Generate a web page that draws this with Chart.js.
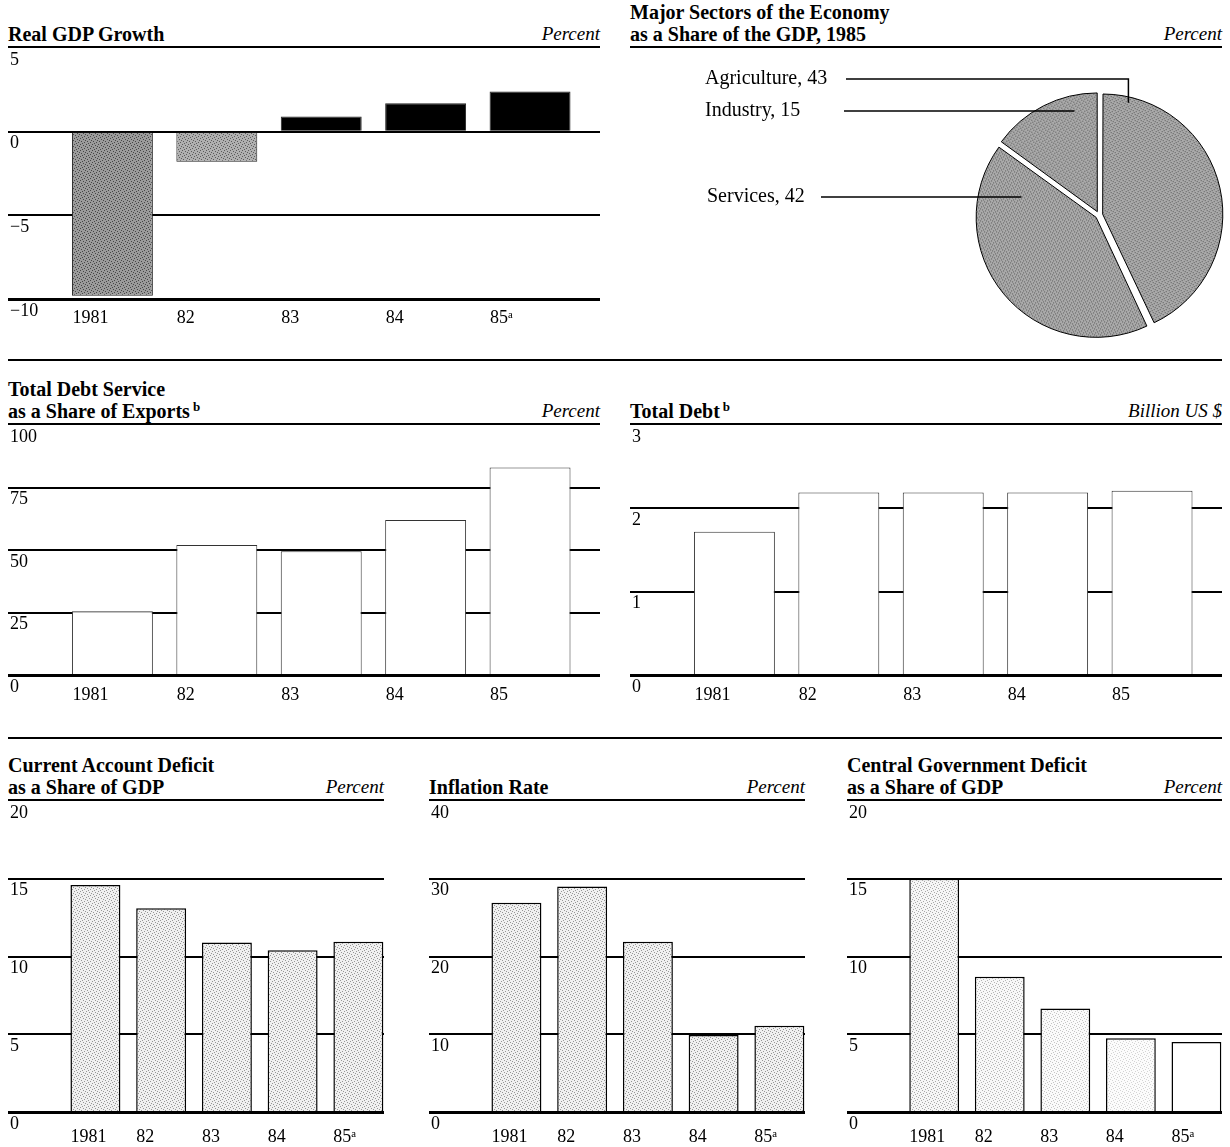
<!DOCTYPE html>
<html>
<head>
<meta charset="utf-8">
<script src="https://cdn.jsdelivr.net/npm/chart.js@4.4.1/dist/chart.umd.min.js"></script>
<style>
  body {
    margin: 0;
    width: 1230px;
    height: 1147px;
    position: relative;
    overflow: hidden;
    background: #fff;
    color: #000;
    font-family: 'Liberation Serif', 'Times New Roman', serif;
  }
  .panel { position: absolute; }
  .panel canvas { position: absolute; left: 0; top: 0; }
  .panel-head {
    position: absolute;
    left: 0;
    right: 0;
    bottom: 100%;
    display: flex;
    justify-content: space-between;
    align-items: flex-end;
    border-bottom: 2px solid #000;
    padding-bottom: 1px;
  }
  .panel-title { font-weight: bold; font-size: 20px; line-height: 22px; white-space: nowrap; }
  .panel-title sup { font-size: 13px; line-height: 0; vertical-align: 7px; margin-left: 3px; }
  .panel-unit { font-style: italic; font-size: 19px; line-height: 22px; white-space: nowrap; }
  .rule { position: absolute; left: 8px; width: 1214px; height: 2px; background: #000; }
</style>
</head>
<body>
<div class="rule" style="top:359px"></div>
<div class="rule" style="top:737px"></div>

<div class="panel" style="left:8px;top:48px;width:592px">
  <div class="panel-head">
    <div class="panel-title">Real GDP Growth</div>
    <div class="panel-unit">Percent</div>
  </div>
  <canvas id="gdpChart" width="592" height="291"></canvas>
</div>

<div class="panel" style="left:630px;top:48px;width:592px">
  <div class="panel-head">
    <div class="panel-title">Major Sectors of the Economy<br>as a Share of the GDP, 1985</div>
    <div class="panel-unit">Percent</div>
  </div>
  <canvas id="sectorChart" width="600" height="297"></canvas>
</div>

<div class="panel" style="left:8px;top:425px;width:592px">
  <div class="panel-head">
    <div class="panel-title">Total Debt Service<br>as a Share of Exports<sup>b</sup></div>
    <div class="panel-unit">Percent</div>
  </div>
  <canvas id="debtServiceChart" width="592" height="290"></canvas>
</div>

<div class="panel" style="left:630px;top:425px;width:592px">
  <div class="panel-head">
    <div class="panel-title">Total Debt<sup>b</sup></div>
    <div class="panel-unit">Billion US $</div>
  </div>
  <canvas id="totalDebtChart" width="592" height="290"></canvas>
</div>

<div class="panel" style="left:8px;top:801px;width:376px">
  <div class="panel-head">
    <div class="panel-title">Current Account Deficit<br>as a Share of GDP</div>
    <div class="panel-unit">Percent</div>
  </div>
  <canvas id="currentAccountChart" width="376" height="345"></canvas>
</div>

<div class="panel" style="left:429px;top:801px;width:376px">
  <div class="panel-head">
    <div class="panel-title">Inflation Rate</div>
    <div class="panel-unit">Percent</div>
  </div>
  <canvas id="inflationChart" width="376" height="345"></canvas>
</div>

<div class="panel" style="left:847px;top:801px;width:375px">
  <div class="panel-head">
    <div class="panel-title">Central Government Deficit<br>as a Share of GDP</div>
    <div class="panel-unit">Percent</div>
  </div>
  <canvas id="govDeficitChart" width="375" height="345"></canvas>
</div>

<script>
'use strict';

// Data
const years = ['1981', '82', '83', '84', '85ᵃ'];
const debtYears = ['1981', '82', '83', '84', '85'];

const gdpGrowth = [-9.8, -1.8, 0.9, 1.7, 2.4];
const gdpTicks = [-10, -5, 0, 5];

const sectors = ['Agriculture', 'Services', 'Industry'];
const sectorShares = [43, 42, 15];

const debtServiceShare = [25.5, 52, 49.5, 62, 83];
const debtServiceTicks = [0, 25, 50, 75, 100];

const totalDebt = [1.72, 2.19, 2.19, 2.19, 2.21];
const totalDebtTicks = [0, 1, 2, 3];

const currentAccountDeficit = [14.6, 13.1, 10.9, 10.4, 10.95];
const currentAccountTicks = [0, 5, 10, 15, 20];

const inflationRate = [26.9, 29, 21.9, 9.9, 11.1];
const inflationTicks = [0, 10, 20, 30, 40];

const govDeficit = [15, 8.7, 6.65, 4.75, 4.5];
const govDeficitTicks = [0, 5, 10, 15, 20];

const serif = "'Liberation Serif', 'Times New Roman', serif";
Chart.defaults.font.family = serif;
Chart.defaults.color = '#000';

// Halftone-like fill
const stipple = function (base, dot) {
  const tile = document.createElement('canvas');
  tile.width = tile.height = 6;
  const g = tile.getContext('2d');
  g.fillStyle = base;
  g.fillRect(0, 0, 6, 6);
  g.fillStyle = dot;
  [[0, 0], [3, 1], [1, 3], [4, 4], [2, 5], [5, 2]].forEach(([x, y]) =>
    g.fillRect(x, y, 1, 1)
  );
  return g.createPattern(tile, 'repeat');
};

const lightFill = stipple('#f0f0f0', '#969696');

const barChart = function (id, cfg) {
  const yMin = cfg.ticks[0];
  const yMax = cfg.ticks[cfg.ticks.length - 1];

  return new Chart(document.querySelector(id).getContext('2d'), {
    type: 'bar',
    data: {
      datasets: [
        {
          data: cfg.values.map((v, i) => ({ x: i + 1, y: v })),
          backgroundColor: cfg.fills,
          borderColor: cfg.borderColor,
          borderWidth: cfg.borderWidth,
          barPercentage: cfg.barPercentage,
          categoryPercentage: 1,
        },
      ],
    },
    options: {
      responsive: false,
      animation: false,
      events: [],
      plugins: {
        legend: { display: false },
        tooltip: { enabled: false },
      },
      scales: {
        x: {
          type: 'linear',
          min: cfg.xMin,
          max: cfg.xMax,
          offset: false,
          grid: { display: false, drawTicks: false },
          border: { display: true, color: '#000', width: 3, z: 1 },
          afterBuildTicks: scale => {
            scale.ticks = cfg.labels.map((l, i) => ({ value: i + 1 }));
          },
          afterFit: scale => {
            scale.height = cfg.axisHeight;
            scale.paddingLeft = 0;
            scale.paddingRight = 0;
          },
          ticks: {
            align: 'start',
            labelOffset: cfg.labelShift,
            padding: cfg.labelPad,
            autoSkip: false,
            maxRotation: 0,
            color: '#000',
            font: { size: 18 },
            callback: v => cfg.labels[v - 1],
          },
        },
        y: {
          min: yMin,
          max: yMax,
          afterBuildTicks: scale => {
            scale.ticks = cfg.ticks.map(v => ({ value: v }));
          },
          afterFit: scale => {
            scale.width = 0;
            scale.paddingTop = 0;
            scale.paddingBottom = 0;
          },
          grid: {
            drawTicks: false,
            lineWidth: 2,
            color: c =>
              c.tick && (c.tick.value === yMax || c.tick.value === yMin)
                ? 'rgba(0,0,0,0)'
                : '#000',
          },
          border: { display: false },
          ticks: {
            mirror: true,
            padding: 2,
            labelOffset: 12,
            color: '#000',
            font: { size: 18 },
            callback: v => String(v).replace('-', '\u2212'),
          },
        },
      },
    },
  });
};

const wide = { xMin: 0, xMax: 5.67, barPercentage: 0.775, labelShift: -40 };
const narrow = { xMin: -0.33, xMax: 5.39, barPercentage: 0.76, labelShift: -25 };

barChart('#gdpChart', {
  ...wide,
  labels: years,
  values: gdpGrowth,
  ticks: gdpTicks,
  fills: [
    stipple('#9b9b9b', '#464646'),
    stipple('#b0b0b0', '#5c5c5c'),
    '#000',
    '#000',
    '#000',
  ],
  borderColor: '#222',
  borderWidth: 1,
  axisHeight: 40,
  labelPad: 8,
});

barChart('#debtServiceChart', {
  ...wide,
  labels: debtYears,
  values: debtServiceShare,
  ticks: debtServiceTicks,
  fills: '#fff',
  borderColor: '#333',
  borderWidth: 1,
  axisHeight: 40,
  labelPad: 9,
});

barChart('#totalDebtChart', {
  ...wide,
  labels: debtYears,
  values: totalDebt,
  ticks: totalDebtTicks,
  fills: '#fff',
  borderColor: '#333',
  borderWidth: 1,
  axisHeight: 40,
  labelPad: 9,
});

barChart('#currentAccountChart', {
  ...narrow,
  labels: years,
  values: currentAccountDeficit,
  ticks: currentAccountTicks,
  fills: lightFill,
  borderColor: '#000',
  borderWidth: 1.5,
  axisHeight: 34,
  labelPad: 14,
});

barChart('#inflationChart', {
  ...narrow,
  labels: years,
  values: inflationRate,
  ticks: inflationTicks,
  fills: lightFill,
  borderColor: '#000',
  borderWidth: 1.5,
  axisHeight: 34,
  labelPad: 14,
});

barChart('#govDeficitChart', {
  ...narrow,
  labels: years,
  values: govDeficit,
  ticks: govDeficitTicks,
  fills: [
    stipple('#f6f6f6', '#a8a8a8'),
    stipple('#f8f8f8', '#b4b4b4'),
    stipple('#fafafa', '#c4c4c4'),
    stipple('#fcfcfc', '#d4d4d4'),
    '#fff',
  ],
  borderColor: '#000',
  borderWidth: 1.5,
  axisHeight: 34,
  labelPad: 14,
});

// Pie with callout labels
const sectorCallouts = [
  { index: 0, textX: 75, y: 31, lineX: 216, along: 0.084, depth: 0.97, elbow: true },
  { index: 2, textX: 75, y: 63, lineX: 214, along: 0.77, depth: 0.9, elbow: false },
  { index: 1, textX: 77, y: 149, lineX: 191, along: 0.85, depth: 0.65, elbow: false },
];

const pieCallouts = {
  id: 'pieCallouts',
  afterDraw(chart) {
    const { ctx } = chart;
    const arcs = chart.getDatasetMeta(0).data;

    ctx.save();
    ctx.font = `20px ${serif}`;
    ctx.fillStyle = '#000';
    ctx.strokeStyle = '#000';
    ctx.lineWidth = 1.5;
    ctx.textBaseline = 'middle';

    sectorCallouts.forEach(c => {
      const arc = arcs[c.index];
      const mid = (arc.startAngle + arc.endAngle) / 2;
      const shift = (arc.options.offset || 0) / 4;
      const angle = arc.startAngle + (arc.endAngle - arc.startAngle) * c.along;
      const ax = arc.x + Math.cos(mid) * shift + Math.cos(angle) * arc.outerRadius * c.depth;
      const ay = arc.y + Math.sin(mid) * shift + Math.sin(angle) * arc.outerRadius * c.depth;

      ctx.fillText(`${sectors[c.index]}, ${sectorShares[c.index]}`, c.textX, c.y);
      ctx.beginPath();
      ctx.moveTo(c.lineX, c.y);
      ctx.lineTo(ax, c.y);
      if (c.elbow) ctx.lineTo(ax, ay);
      ctx.stroke();
    });
    ctx.restore();
  },
};

new Chart(document.querySelector('#sectorChart').getContext('2d'), {
  type: 'pie',
  data: {
    labels: sectors,
    datasets: [
      {
        data: sectorShares,
        backgroundColor: stipple('#aaaaaa', '#555555'),
        borderColor: '#000',
        borderWidth: 1,
        offset: 15,
        hoverOffset: 0,
        radius: 118,
      },
    ],
  },
  options: {
    responsive: false,
    animation: false,
    events: [],
    radius: 118,
    layout: { padding: { left: 347, top: 45, right: 9, bottom: 8 } },
    plugins: {
      legend: { display: false },
      tooltip: { enabled: false },
    },
  },
  plugins: [pieCallouts],
});
</script>
</body>
</html>
